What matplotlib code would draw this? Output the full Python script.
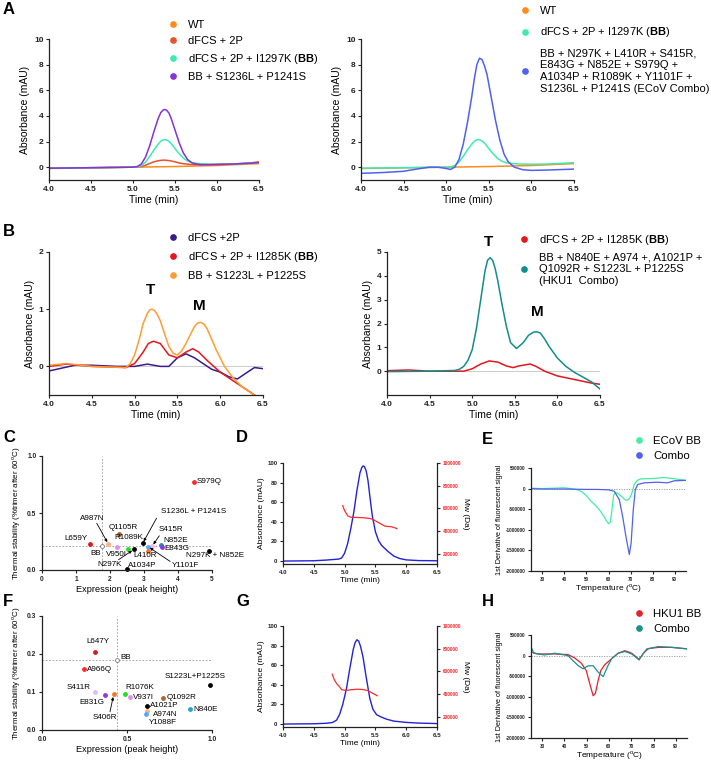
import matplotlib
matplotlib.use("Agg")
import matplotlib.pyplot as plt
from matplotlib.lines import Line2D
from matplotlib.ticker import FuncFormatter, FormatStrFormatter

plt.rcParams['font.family'] = ['Liberation Sans', 'DejaVu Sans']
plt.rcParams['mathtext.fontset'] = 'custom'
plt.rcParams['mathtext.rm'] = 'Liberation Sans'
plt.rcParams['mathtext.bf'] = 'Liberation Sans:bold'

# ---------------- data ----------------
# panel A (ECoV SEC traces), time in min, absorbance in mAU
a_wt_t = [4.0, 4.5, 5.0, 5.5, 6.0, 6.5]
a_wt_y = [-0.1, -0.05, 0.0, 0.05, 0.13, 0.28]
a_2p_t = [4.0, 4.5, 5.0, 5.1, 5.15, 5.2, 5.25, 5.3, 5.34, 5.37, 5.41, 5.45, 5.5, 5.55, 5.6, 5.7, 5.8, 6.0, 6.2, 6.4, 6.5]
a_2p_y = [-0.08, -0.04, 0.0, 0.05, 0.15, 0.3, 0.42, 0.5, 0.54, 0.55, 0.53, 0.49, 0.42, 0.33, 0.27, 0.2, 0.18, 0.2, 0.25, 0.33, 0.42]
a_bb_t = [4.0, 4.5, 5.0, 5.05, 5.1, 5.15, 5.2, 5.25, 5.3, 5.33, 5.36, 5.38, 5.4, 5.43, 5.46, 5.5, 5.55, 5.6,
          5.65, 5.7, 5.8, 5.9, 6.0, 6.2, 6.5]
a_bb_y = [-0.08, -0.04, 0.0, 0.03, 0.12, 0.4, 0.85, 1.35, 1.8, 2.02, 2.13, 2.15, 2.12, 2.0, 1.8, 1.45, 1.05, 0.7,
          0.48, 0.35, 0.27, 0.24, 0.23, 0.25, 0.35]
a_sp_t = [4.0, 4.5, 5.0, 5.05, 5.1, 5.15, 5.2, 5.25, 5.3, 5.33, 5.36, 5.38, 5.4, 5.43, 5.46, 5.5, 5.55, 5.6,
          5.65, 5.7, 5.75, 5.8, 5.9, 6.0, 6.2, 6.5]
a_sp_y = [-0.08, -0.04, 0.0, 0.05, 0.25, 0.8, 1.7, 2.8, 3.8, 4.25, 4.47, 4.5, 4.45, 4.2, 3.7, 2.9, 1.9, 1.1,
          0.6, 0.35, 0.25, 0.2, 0.2, 0.22, 0.25, 0.35]
a_combo_t = [4.0, 4.25, 4.5, 4.65, 4.8, 4.9, 5.0, 5.05, 5.1, 5.15, 5.2, 5.25, 5.3, 5.33, 5.36, 5.39, 5.42,
             5.45, 5.48, 5.53, 5.58, 5.63, 5.68, 5.73, 5.8, 5.9, 6.0, 6.2, 6.5]
a_combo_y = [-0.48, -0.42, -0.32, -0.15, 0.0, 0.0, -0.1, -0.18, 0.0, 0.6, 1.8, 3.5, 5.5, 6.9, 8.0, 8.5, 8.4,
             7.9, 7.2, 5.4, 3.6, 2.1, 1.0, 0.4, 0.0, -0.2, -0.25, -0.22, -0.15]

# panel B (HKU1 SEC traces)
b_2p_t = [4.0, 4.15, 4.3, 4.5, 4.8, 5.0, 5.15, 5.3, 5.4, 5.5, 5.6, 5.7, 5.8, 5.9, 6.0, 6.1, 6.2, 6.3, 6.4, 6.5]
b_2p_y = [-0.08, -0.03, 0.02, 0.02, 0.0, 0.0, 0.04, 0.0, 0.0, 0.15, 0.22, 0.15, 0.05, -0.05, -0.1, -0.18, -0.22, -0.12, -0.02, -0.04]
b_bb_t = [4.0, 4.2, 4.5, 4.9, 5.0, 5.1, 5.16, 5.22, 5.3, 5.4, 5.5, 5.6, 5.68, 5.75, 5.85, 6.0, 6.2, 6.35, 6.5]
b_bb_y = [0.0, 0.04, 0.0, -0.02, 0.05, 0.25, 0.4, 0.44, 0.4, 0.2, 0.15, 0.25, 0.31, 0.25, 0.1, -0.1, -0.3, -0.45, -0.6]
b_sp_t = [4.0, 4.2, 4.5, 4.9, 4.95, 5.0, 5.05, 5.1, 5.15, 5.18, 5.2, 5.23, 5.26, 5.3, 5.35, 5.4, 5.45, 5.5,
          5.55, 5.6, 5.65, 5.7, 5.74, 5.77, 5.81, 5.85, 5.95, 6.05, 6.15, 6.25, 6.4, 6.5]
b_sp_y = [0.02, 0.05, 0.0, -0.02, 0.05, 0.2, 0.45, 0.75, 0.93, 0.99, 1.0, 0.98, 0.92, 0.8, 0.57, 0.35, 0.23, 0.2,
          0.27, 0.4, 0.55, 0.7, 0.76, 0.77, 0.74, 0.65, 0.3, 0.0, -0.2, -0.35, -0.5, -0.6]
b_combo_t = [4.0, 4.5, 4.8, 4.85, 4.9, 4.95, 5.0, 5.05, 5.1, 5.15, 5.18, 5.21, 5.24, 5.27, 5.3, 5.35, 5.4, 5.45,
             5.52, 5.6, 5.66, 5.72, 5.76, 5.8, 5.85, 5.9, 6.0, 6.1, 6.2, 6.3, 6.4, 6.5]
b_combo_y = [-0.02, 0.0, 0.03, 0.08, 0.2, 0.45, 0.9, 1.8, 3.0, 4.2, 4.65, 4.76, 4.65, 4.3, 3.8, 2.8, 1.9, 1.2,
             0.95, 1.2, 1.5, 1.64, 1.65, 1.6, 1.35, 1.05, 0.55, 0.2, -0.05, -0.25, -0.45, -0.75]
b_bb2_t = [4.0, 4.25, 4.5, 4.9, 5.0, 5.1, 5.2, 5.3, 5.4, 5.48, 5.55, 5.68, 5.75, 5.85, 6.0, 6.2, 6.4, 6.5]
b_bb2_y = [0.02, 0.05, 0.0, 0.0, 0.1, 0.3, 0.43, 0.38, 0.22, 0.15, 0.22, 0.3, 0.2, 0.0, -0.2, -0.35, -0.5, -0.55]

# panel C: ECoV screen
c_names = ['S979Q', 'L659Y', 'BB', 'A987N', 'V950I', 'Q1105R', 'R1089K', 'N297K', 'A1034P',
           'S1236L + P1241S', 'S415R', 'Y1101F', 'L410R', 'N852E', 'E843G', 'N297K + N852E']
c_expr = [4.47, 1.40, 1.76, 1.95, 2.20, 2.27, 2.54, 2.70, 2.49, 2.96, 3.24, 3.12, 3.12, 3.49, 3.52, 4.91]
c_stab = [0.775, 0.228, 0.21, 0.228, 0.20, 0.32, 0.184, 0.18, 0.01, 0.234, 0.21, 0.205, 0.17, 0.22, 0.20, 0.17]
c_bb = (1.76, 0.21)

# panel F: HKU1 screen
f_names = ['L647Y', 'BB', 'A966Q', 'S411R', 'E831G', 'S406R', 'R1076K', 'V937I', 'Q1092R',
           'A1021P', 'A974N', 'Y1088F', 'N840E', 'S1223L+P1225S']
f_expr = [0.309, 0.443, 0.248, 0.313, 0.373, 0.422, 0.486, 0.52, 0.713, 0.619, 0.619, 0.611, 0.871, 0.99]
f_stab = [0.205, 0.184, 0.16, 0.099, 0.091, 0.094, 0.096, 0.088, 0.085, 0.063, 0.05, 0.042, 0.055, 0.118]
f_bb = (0.443, 0.184)

# panels D / G: SEC-MALS
d_abs_t = [4.0, 4.5, 4.7, 4.9, 4.95, 5.0, 5.05, 5.1, 5.15, 5.2, 5.25, 5.28, 5.3, 5.32, 5.35, 5.38, 5.41, 5.45,
           5.5, 5.55, 5.6, 5.65, 5.7, 5.8, 5.9, 6.0, 6.2, 6.5]
d_abs_y = [0.0, 0.3, 1.0, 2.0, 3.0, 8.0, 18.0, 33.0, 50.0, 72.0, 90.0, 95.5, 97.0, 96.5, 92.0, 82.0, 66.0, 46.0,
           30.0, 21.0, 16.0, 13.0, 10.0, 5.0, 2.5, 1.2, 0.5, 0.3]
d_mw_t = [4.97, 5.0, 5.05, 5.1, 5.2, 5.3, 5.4, 5.45, 5.5, 5.55, 5.6, 5.65, 5.7, 5.75, 5.8, 5.85]
d_mw = [625000, 580000, 535000, 522000, 520000, 518000, 512000, 505000, 490000, 475000, 460000,
        445000, 440000, 440000, 432000, 422000]
g_abs_t = [4.0, 4.5, 4.7, 4.8, 4.87, 4.92, 4.97, 5.03, 5.08, 5.14, 5.17, 5.2, 5.23, 5.26, 5.3, 5.35, 5.41, 5.46,
           5.52, 5.6, 5.68, 5.8, 6.0, 6.2, 6.5]
g_abs_y = [0.0, 0.3, 0.8, 1.5, 4.0, 10.0, 20.0, 36.0, 55.0, 76.0, 83.0, 86.0, 84.5, 79.0, 68.0, 48.0, 26.0, 15.0,
           9.5, 7.0, 5.0, 3.0, 1.7, 1.0, 0.5]
g_mw_t = [4.80, 4.83, 4.87, 4.91, 4.95, 5.0, 5.05, 5.1, 5.2, 5.3, 5.38, 5.43, 5.48, 5.53]
g_mw = [575000, 530000, 493000, 470000, 440000, 434000, 434000, 438000, 443000, 440000, 430000,
        415000, 400000, 385000]

# panels E / H: DSF first derivative
e_bb_T = [25, 30, 35, 40, 43, 46, 48, 50, 52, 54, 56, 58, 59, 60, 60.8, 61.5, 62.3, 63.0, 64.0, 65.0,
          66.5, 67.5, 68.3, 69.5, 70.5, 71.6, 73, 74.7, 80, 85, 91, 95]
e_bb_y = [10000, 0, 10000, 20000, 0, -30000, -80000, -170000, -300000, -400000, -520000, -680000,
          -780000, -850000, -820000, -550000, -170000, -100000, -110000, -150000, -220000, -270000,
          -290000, -240000, -120000, 100000, 200000, 236000, 245000, 270000, 230000, 200000]
e_combo_T = [25, 30, 40, 50, 55, 60, 62.6, 64.9, 66.4, 67.9, 69.4, 70.2, 71.2, 72.1, 73.2, 76.2,
             82.2, 86.7, 89.7, 95]
e_combo_y = [0, -10000, -10000, -20000, -20000, -30000, -65000, -270000, -680000, -1170000, -1600000,
             -1330000, -510000, -25000, 100000, 140000, 155000, 140000, 190000, 200000]
h_bb_T = [25.8, 28, 35.6, 41.6, 44.6, 47.6, 49.8, 51.4, 52.9, 53.9, 55.1, 56.3, 58.1, 61.1, 64.1,
          67.1, 70.2, 72.4, 73.5, 75.4, 77.7, 82.2, 88.2, 95.7]
h_bb_y = [80000, 40000, 40000, 25000, -57000, -186000, -365000, -690000, -975000, -915000, -610000,
          -365000, -220000, -80000, 57000, 120000, 57000, -40000, -105000, 57000, 170000, 200000,
          200000, 160000]
h_combo_T = [25.5, 26.2, 31, 35.6, 41.6, 43.8, 46.1, 48.3, 50.6, 52.9, 55.1, 57.4, 59.3, 61.1, 64.1,
             67.1, 70.2, 73.2, 74.4, 76.9, 82.2, 88.2, 95.7]
h_combo_y = [160000, 57000, 16000, 57000, 0, -120000, -240000, -320000, -250000, -245000, -400000,
             -510000, -270000, -80000, 57000, 100000, 40000, -90000, -25000, 160000, 220000, 200000,
             160000]

# ---------------- colours ----------------
C_WT = '#FF8A1E'
C_2P = '#E8532B'
C_BB = '#3DEBB2'
C_SP = '#8333D6'
C_COMBO = '#4E61F2'
C_HB_2P = '#3A1A8E'
C_HB_BB = '#E3171D'
C_HB_SP = '#FF9C33'
C_HKU_COMBO = '#138C8C'

c_colors = ['#FF2A2A', '#D41C1C', 'white', '#FFB37A', '#E48AF0', '#A0622E', '#22E022', 'black',
            'black', 'black', '#FFB4E6', '#56A8FF', '#FF7320', '#1592B4', '#9035E0', 'black']
f_colors = ['#D41C1C', 'white', '#FF2A2A', '#E6B8F2', '#9035E0', '#FF7320', '#22E022', '#E48AF0',
            '#B0652A', 'black', '#FFB37A', '#56A8FF', '#1FA6C8', 'black']

# ---------------- layout helpers ----------------
W, H = 711, 763
fig = plt.figure(figsize=(W / 100, H / 100), dpi=100)


def px_axes(x0, y0, x1, y1):
    return fig.add_axes([x0 / W, 1 - y1 / H, (x1 - x0) / W, (y1 - y0) / H])


def prism(ax, tick_fs):
    for s in ['top', 'right']:
        ax.spines[s].set_visible(False)
    for s in ['left', 'bottom']:
        ax.spines[s].set_color('#222222')
        ax.spines[s].set_linewidth(0.9)
    ax.tick_params(direction='out', length=2.5, width=0.8, labelsize=tick_fs, colors='#222222', pad=1.5)
    for lab in ax.get_xticklabels() + ax.get_yticklabels():
        lab.set_fontweight('bold')


def dot_legend(ax, labels, colors, x_px, y_px, fs, spacing):
    handles = [Line2D([], [], ls='none', marker='o', ms=3.8, mfc=c, mec=c) for c in colors]
    ax.legend(handles, labels, loc='upper left', bbox_to_anchor=(x_px / W, 1 - y_px / H),
              bbox_transform=fig.transFigure, frameon=False, fontsize=fs, borderpad=0,
              borderaxespad=0, handlelength=0.8, handletextpad=0.9, labelspacing=spacing)


def panel_letter(letter, x_px, y_px):
    fig.text(x_px / W, 1 - y_px / H, letter, fontsize=12, fontweight='bold', va='center', ha='left')


def time_axis(ax):
    ax.set_xlim(4.0, 6.5)
    ax.set_xticks([4.0, 4.5, 5.0, 5.5, 6.0, 6.5])
    ax.xaxis.set_major_formatter(FormatStrFormatter('%.1f'))


LEG_FS = 8.0
PT_FS = 5.8

# ---------------- A ----------------
axA1 = px_axes(49, 39, 259, 180)
axA1.plot(a_wt_t, a_wt_y, color=C_WT, lw=1.1)
axA1.plot(a_2p_t, a_2p_y, color=C_2P, lw=1.1)
axA1.plot(a_bb_t, a_bb_y, color=C_BB, lw=1.1)
axA1.plot(a_sp_t, a_sp_y, color=C_SP, lw=1.1)
axA1.set_ylim(-1, 10)
axA1.set_yticks([0, 2, 4, 6, 8, 10])
time_axis(axA1)
axA1.set_xlabel('Time (min)', fontsize=7.5, labelpad=2)
axA1.set_ylabel('Absorbance (mAU)', fontsize=7.5, labelpad=3)
prism(axA1, 6)
dot_legend(axA1, ['WT', 'dFCS + 2P', r'dFCS + 2P + I1297K ($\mathbf{BB}$)', 'BB + S1236L + P1241S'],
           [C_WT, C_2P, C_BB, C_SP], 169, 20, LEG_FS, 0.55)

axA2 = px_axes(361, 39, 574, 180)
axA2.plot(a_wt_t, a_wt_y, color=C_WT, lw=1.1)
axA2.plot(a_bb_t, a_bb_y, color=C_BB, lw=1.1)
axA2.plot(a_combo_t, a_combo_y, color=C_COMBO, lw=1.1)
axA2.set_ylim(-1, 10)
axA2.set_yticks([0, 2, 4, 6, 8, 10])
time_axis(axA2)
axA2.set_xlabel('Time (min)', fontsize=7.5, labelpad=2)
axA2.set_ylabel('Absorbance (mAU)', fontsize=7.5, labelpad=3)
prism(axA2, 6)
dot_legend(axA2, ['WT', r'dFCS + 2P + I1297K ($\mathbf{BB}$)',
                  'BB + N297K + L410R + S415R,\nE843G + N852E + S979Q +\n'
                  'A1034P + R1089K + Y1101F +\nS1236L + P1241S (ECoV Combo)'],
           [C_WT, C_BB, C_COMBO], 521, 6, LEG_FS, 0.85)

# ---------------- B ----------------
axB1 = px_axes(49, 252, 263, 395)
axB1.axhline(0, color='#cccccc', lw=0.7)
axB1.plot(b_2p_t, b_2p_y, color=C_HB_2P, lw=1.1)
axB1.plot(b_bb_t, b_bb_y, color=C_HB_BB, lw=1.1)
axB1.plot(b_sp_t, b_sp_y, color=C_HB_SP, lw=1.1)
axB1.set_ylim(-0.5, 2)
axB1.set_yticks([0, 1, 2])
time_axis(axB1)
axB1.set_xlabel('Time (min)', fontsize=7.5, labelpad=2)
axB1.set_ylabel('Absorbance (mAU)', fontsize=7.5, labelpad=3)
prism(axB1, 6)
axB1.text(5.18, 1.34, 'T', fontsize=11, fontweight='bold', ha='center', va='center')
axB1.text(5.76, 1.05, 'M', fontsize=11, fontweight='bold', ha='center', va='center')
dot_legend(axB1, ['dFCS +2P', r'dFCS + 2P + I1285K ($\mathbf{BB}$)', 'BB + S1223L + P1225S'],
           [C_HB_2P, C_HB_BB, C_HB_SP], 169, 233, LEG_FS, 0.62)

axB2 = px_axes(387, 252, 600, 395)
axB2.axhline(0, color='#cccccc', lw=0.7)
axB2.plot(b_bb2_t, b_bb2_y, color=C_HB_BB, lw=1.1)
axB2.plot(b_combo_t, b_combo_y, color=C_HKU_COMBO, lw=1.1)
axB2.set_ylim(-1, 5)
axB2.set_yticks([0, 1, 2, 3, 4, 5])
time_axis(axB2)
axB2.set_xlabel('Time (min)', fontsize=7.5, labelpad=2)
axB2.set_ylabel('Absorbance (mAU)', fontsize=7.5, labelpad=3)
prism(axB2, 6)
axB2.text(5.19, 5.42, 'T', fontsize=11, fontweight='bold', ha='center', va='center', clip_on=False)
axB2.text(5.77, 2.48, 'M', fontsize=11, fontweight='bold', ha='center', va='center')
dot_legend(axB2, [r'dFCS + 2P + I1285K ($\mathbf{BB}$)',
                  'BB + N840E + A974 +, A1021P +\nQ1092R + S1223L + P1225S\n(HKU1  Combo)'],
           [C_HB_BB, C_HKU_COMBO], 520, 233, LEG_FS, 0.5)

# ---------------- C ----------------
c_text = [(4.56, 0.775, 'left'), (1.01, 0.278, 'center'), (1.57, 0.146, 'center'), (1.47, 0.453, 'center'),
          (2.20, 0.14, 'center'), (2.39, 0.371, 'center'), (2.55, 0.287, 'center'), (1.99, 0.044, 'center'),
          (2.54, 0.038, 'left'), (4.47, 0.512, 'center'), (3.78, 0.351, 'center'), (4.22, 0.038, 'center'),
          (3.04, 0.123, 'center'), (3.94, 0.255, 'center'), (3.96, 0.186, 'center'), (4.23, 0.123, 'left')]
c_arrows = {'A987N': (1.61, 0.41), 'N297K': (2.25, 0.09), 'S1236L + P1241S': (3.37, 0.455),
            'S415R': (3.45, 0.3), 'Y1101F': (3.77, 0.075)}

axC = px_axes(42, 456, 212, 570)
axC.axvline(c_bb[0], color='#999999', lw=0.6, ls=(0, (2, 2)))
axC.axhline(c_bb[1], color='#999999', lw=0.6, ls=(0, (2, 2)))
for i, n in enumerate(c_names):
    ec = '#777777' if n == 'BB' else c_colors[i]
    axC.plot(c_expr[i], c_stab[i], 'o', ms=2.8, mfc=c_colors[i], mec=ec, mew=0.6, clip_on=False)
    tx, ty, ha = c_text[i]
    if n in c_arrows:
        ax_, ay_ = c_arrows[n]
        axC.annotate('', xy=(c_expr[i], c_stab[i]), xytext=(ax_, ay_),
                     arrowprops=dict(arrowstyle='-|>', lw=0.6, color='black', mutation_scale=4,
                                     shrinkA=0, shrinkB=1.5))
    axC.text(tx, ty, n, fontsize=PT_FS, ha=ha, va='center', clip_on=False)
axC.set_xlim(0, 5)
axC.set_ylim(0, 1)
axC.set_xticks([0, 1, 2, 3, 4, 5])
axC.set_yticks([0.0, 0.5, 1.0])
axC.yaxis.set_major_formatter(FormatStrFormatter('%.1f'))
axC.set_xlabel('Expression (peak height)', fontsize=6.6, labelpad=2)
axC.set_ylabel('Thermal stability (%trimer after 60$^\\mathrm{o}$C)', fontsize=5.8, labelpad=3)
prism(axC, 4.8)

# ---------------- F ----------------
f_text = [(0.326, 0.232, 'center'), (0.459, 0.19, 'left'), (0.264, 0.158, 'left'), (0.217, 0.112, 'center'),
          (0.293, 0.072, 'center'), (0.371, 0.033, 'center'), (0.576, 0.112, 'center'), (0.537, 0.085, 'left'),
          (0.732, 0.086, 'left'), (0.635, 0.064, 'left'), (0.654, 0.042, 'left'), (0.631, 0.020, 'left'),
          (0.889, 0.054, 'left'), (0.898, 0.142, 'center')]
f_arrows = {'S406R': (0.40, 0.048)}

axF = px_axes(42, 616, 212, 730)
axF.axvline(f_bb[0], color='#999999', lw=0.6, ls=(0, (2, 2)))
axF.axhline(f_bb[1], color='#999999', lw=0.6, ls=(0, (2, 2)))
for i, n in enumerate(f_names):
    ec = '#777777' if n == 'BB' else f_colors[i]
    axF.plot(f_expr[i], f_stab[i], 'o', ms=2.8, mfc=f_colors[i], mec=ec, mew=0.6, clip_on=False)
    tx, ty, ha = f_text[i]
    if n in f_arrows:
        ax_, ay_ = f_arrows[n]
        axF.annotate('', xy=(f_expr[i], f_stab[i]), xytext=(ax_, ay_),
                     arrowprops=dict(arrowstyle='-|>', lw=0.6, color='black', mutation_scale=4,
                                     shrinkA=0, shrinkB=2))
    axF.text(tx, ty, n, fontsize=PT_FS, ha=ha, va='center', clip_on=False)
axF.set_xlim(0, 1)
axF.set_ylim(0, 0.3)
axF.set_xticks([0.0, 0.5, 1.0])
axF.set_yticks([0.0, 0.1, 0.2, 0.3])
axF.xaxis.set_major_formatter(FormatStrFormatter('%.1f'))
axF.yaxis.set_major_formatter(FormatStrFormatter('%.1f'))
axF.set_xlabel('Expression (peak height)', fontsize=6.6, labelpad=2)
axF.set_ylabel('Thermal stability (%trimer after 60$^\\mathrm{o}$C)', fontsize=5.8, labelpad=3)
prism(axF, 4.8)


# ---------------- D / G ----------------
def sec_mals(rect, t, y, mt, mw):
    ax = px_axes(*rect)
    ax.plot(t, y, color='#2222D8', lw=1.0)
    ax.set_ylim(-3, 100)
    ax.set_yticks([0, 20, 40, 60, 80, 100])
    time_axis(ax)
    ax.set_xlabel('Time (min)', fontsize=6, labelpad=1.5)
    ax.set_ylabel('Absorbance (mAU)', fontsize=6, labelpad=2)
    prism(ax, 4.4)
    ax2 = ax.twinx()
    ax2.plot(mt, mw, color='#FF2A2A', lw=0.9)
    ax2.set_ylim(110000, 1000000)
    ax2.set_yticks([200000, 400000, 600000, 800000, 1000000])
    ax2.yaxis.set_major_formatter(FuncFormatter(lambda v, p: f'{int(v)}'))
    for s in ['top', 'left', 'bottom']:
        ax2.spines[s].set_visible(False)
    ax2.spines['right'].set_color('#222222')
    ax2.spines['right'].set_linewidth(0.9)
    ax2.tick_params(direction='out', length=2.5, width=0.8, labelsize=3.4, colors='#222222', pad=1.5)
    for lab in ax2.get_yticklabels():
        lab.set_color('#FF2A2A')
        lab.set_fontweight('bold')
    ax2.set_ylabel('Mw (Da)', fontsize=6, rotation=270, labelpad=6)
    return ax


axD = sec_mals((283, 463, 437, 564), d_abs_t, d_abs_y, d_mw_t, d_mw)
axG = sec_mals((283, 626, 437, 727), g_abs_t, g_abs_y, g_mw_t, g_mw)


# ---------------- E / H ----------------
def dsf(rect, T1, y1, c1, T2, y2, c2, labels, leg_y):
    ax = px_axes(*rect)
    ax.axhline(0, color='#999999', lw=0.6, ls=(0, (1.5, 1.5)))
    ax.plot(T1, y1, color=c1, lw=0.9)
    ax.plot(T2, y2, color=c2, lw=0.9)
    ax.set_xlim(25, 95)
    ax.set_ylim(-2000000, 500000)
    ax.set_xticks([30, 40, 50, 60, 70, 80, 90])
    ax.set_yticks([-2000000, -1500000, -1000000, -500000, 0, 500000])
    ax.yaxis.set_major_formatter(FuncFormatter(lambda v, p: f'{int(v)}'))
    ax.set_xlabel('Temperature ($^\\mathrm{o}$C)', fontsize=6, labelpad=0.5)
    ax.set_ylabel('1st Derivative of fluorescent signal', fontsize=5.2, labelpad=2)
    prism(ax, 3.3)
    dot_legend(ax, labels, [c1, c2], 634, leg_y, 8.2, 0.4)
    return ax


axE = dsf((531, 468, 686, 571), e_bb_T, e_bb_y, '#40EFA2', e_combo_T, e_combo_y, '#4E61F2',
          ['ECoV BB', 'Combo'], 436)
axH = dsf((531, 635, 687, 738), h_bb_T, h_bb_y, '#E8202A', h_combo_T, h_combo_y, '#1A9090',
          ['HKU1 BB', 'Combo'], 609)

# panel letters
panel_letter('A', 3, 10)
panel_letter('B', 3, 232)
panel_letter('C', 3, 438)
panel_letter('D', 236, 438)
panel_letter('E', 482, 440)
panel_letter('F', 3, 602)
panel_letter('G', 236, 602)
panel_letter('H', 482, 602)

fig.savefig('out.png', dpi=100)
